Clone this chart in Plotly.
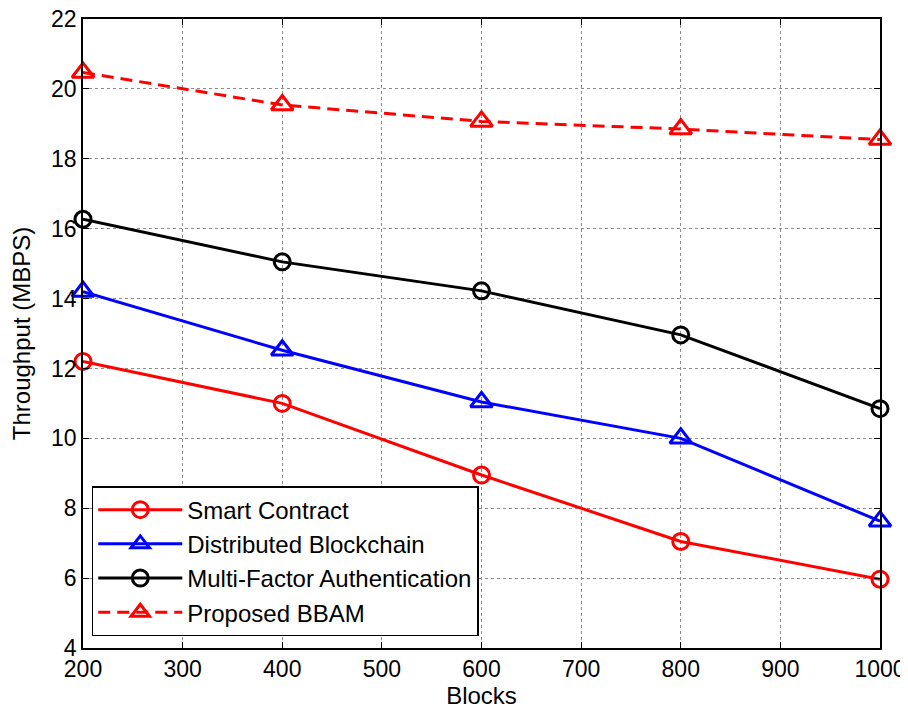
import plotly.graph_objects as go

blocks = [200, 400, 600, 800, 1000]
smart_contract = [12.2, 11.0, 8.95, 7.05, 5.97]
distributed_blockchain = [14.2, 12.52, 11.04, 10.0, 7.63]
multi_factor_auth = [16.27, 15.05, 14.22, 12.96, 10.85]
proposed_bbam = [20.47, 19.54, 19.07, 18.85, 18.55]

series = [
    ("Smart Contract", smart_contract, "#ff0000", "circle-open", "solid", 16),
    ("Distributed Blockchain", distributed_blockchain, "#0000ff", "triangle-up-open", "solid", 19),
    ("Multi-Factor Authentication", multi_factor_auth, "#000000", "circle-open", "solid", 16),
    ("Proposed BBAM", proposed_bbam, "#ff0000", "triangle-up-open", "12px,7px", 19),
]

fig = go.Figure()
for name, vals, color, sym, dash, size in series:
    fig.add_trace(go.Scatter(
        x=blocks, y=vals, name=name, mode="lines+markers",
        line=dict(color=color, width=3, dash=dash),
        marker=dict(symbol=sym, size=size, color=color, line=dict(color=color, width=3)),
        cliponaxis=False,
    ))

font = "Liberation Sans, Arial, sans-serif"
axis_common = dict(
    showline=True, linecolor="black", linewidth=1.5, mirror="ticks",
    ticks="inside", ticklen=6, tickcolor="black", tickwidth=1,
    showgrid=True, gridcolor="#8c8c8c", griddash="dot", gridwidth=1,
    zeroline=False, automargin=False, ticklabeloverflow="allow",
    tickfont=dict(family=font, size=23, color="black"),
)

# page body has an 8px default margin; figure sized to fit the 908x711 window
fig.update_layout(
    width=900, height=703,
    margin=dict(l=75, r=28, t=11, b=63),
    paper_bgcolor="white", plot_bgcolor="white",
    font=dict(family=font, size=24, color="black"),
    xaxis=dict(range=[200, 1000], dtick=100,
               title=dict(text="Blocks", font=dict(family=font, size=24), standoff=0),
               **axis_common),
    yaxis=dict(range=[4, 22], dtick=2,
               title=dict(text="Throughput (MBPS)", font=dict(family=font, size=24), standoff=14),
               **axis_common),
    legend=dict(x=0.011, y=0.019, xanchor="left", yanchor="bottom",
                bgcolor="white", bordercolor="black", borderwidth=1.5,
                font=dict(family=font, size=24, color="black"),
                itemwidth=84, tracegroupgap=0),
    showlegend=True,
)

fig.write_html("out.html")
